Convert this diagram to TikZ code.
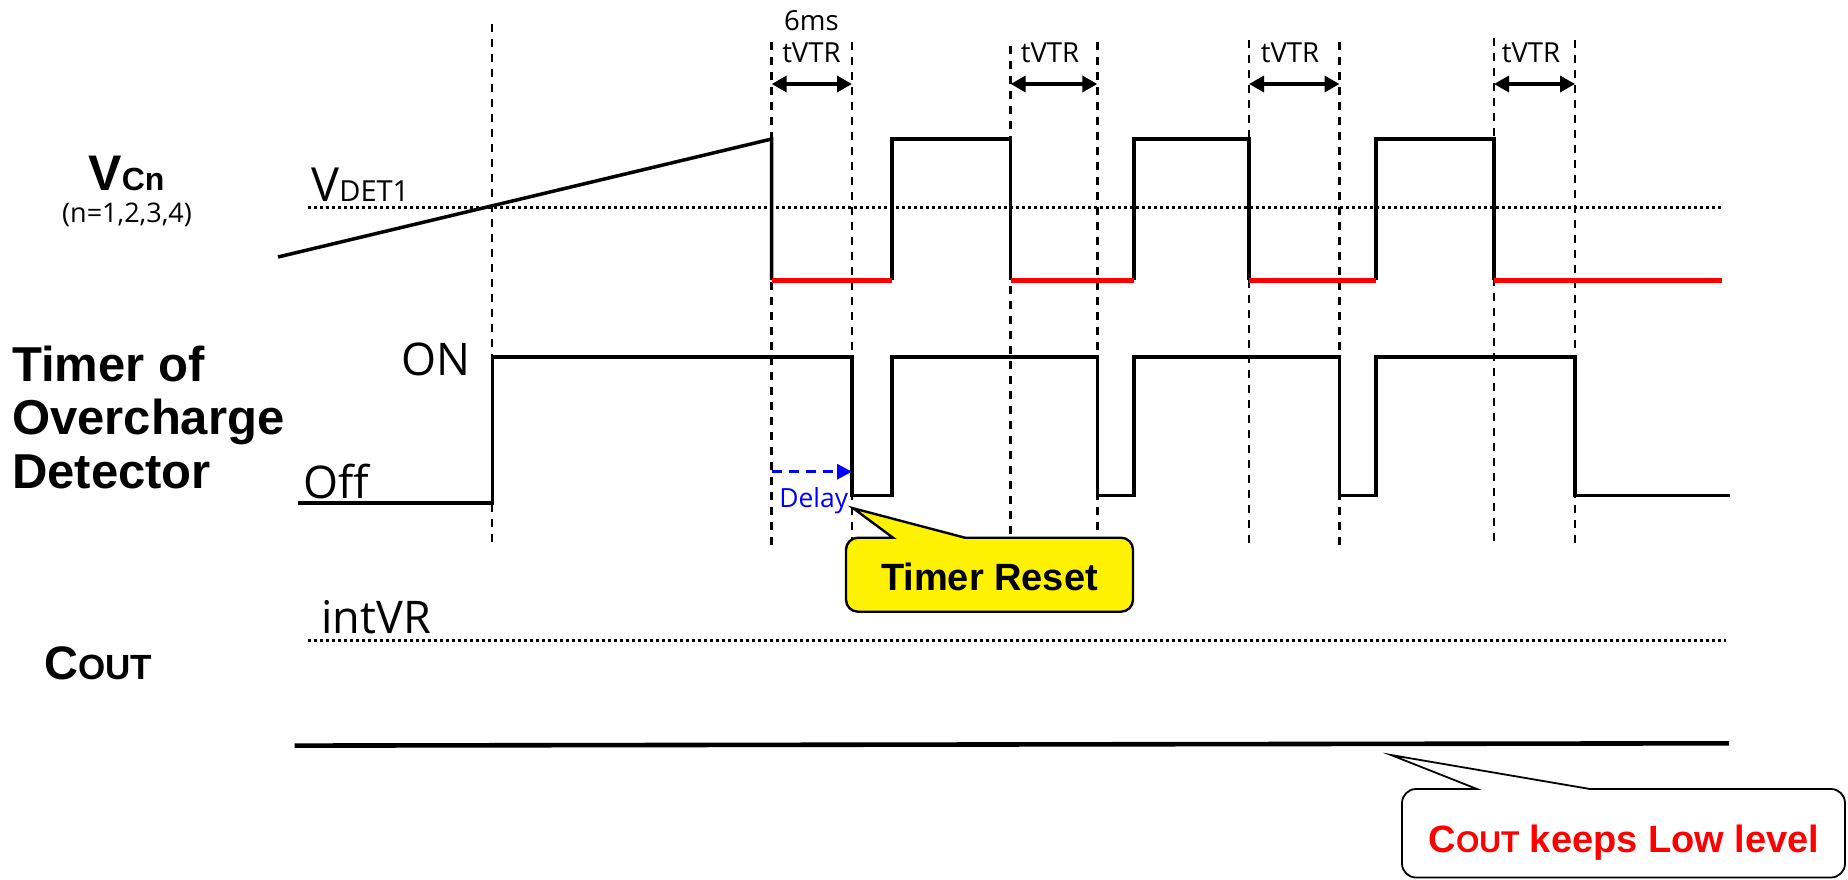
\documentclass[tikz,border=0pt]{standalone}
\usepackage{fontspec}
\setmainfont{Liberation Sans}
\newfontfamily\seg{Open Sans}
\usetikzlibrary{arrows.meta}
\begin{document}
\begin{tikzpicture}[x=0.5pt,y=-0.5pt,
  wave/.style={line width=1.75pt, line join=miter},
  redlow/.style={line width=2.5pt, red},
  guide/.style={line width=1.25pt, dash pattern=on 4pt off 3.5pt},
  level/.style={line width=1.5pt, dash pattern=on 1.5pt off 1.5pt},
  dim/.style={line width=1.7pt, {Triangle[length=7.5pt,width=8pt]}-{Triangle[length=7.5pt,width=8pt]}},
  lbl/.style={inner sep=0pt, anchor=base west},
  clbl/.style={inner sep=0pt, anchor=base},
  segtxt/.style={font=\seg\fontsize{13.8}{16}\selectfont},
  biglbl/.style={font=\bfseries\fontsize{24.5}{28}\selectfont},
  lvltxt/.style={font=\seg\fontsize{22.5}{26}\selectfont}]
\useasboundingbox (0,0) rectangle (1848,879);

% ---- vertical guide lines
\foreach \x/\t in {492/24, 771.7/42, 852/42, 1010.7/46, 1097.3/42, 1249/40, 1339.5/42, 1494/38, 1575/40}
  \draw[guide] (\x,\t) -- (\x,546);

% ---- time marks
\node[clbl, segtxt] (sixms) at (811.5,30) {6ms};
\node[clbl, segtxt] (t1) at (811.5,62) {tVTR};
\node[clbl, segtxt] (t2) at (1050,62) {tVTR};
\node[clbl, segtxt] (t3) at (1290,62) {tVTR};
\node[clbl, segtxt] (t4) at (1531,62) {tVTR};
\draw[dim] (771.7,84) -- (852,84);
\draw[dim] (1010.7,84) -- (1097.3,84);
\draw[dim] (1249,84) -- (1339.5,84);
\draw[dim] (1494,84) -- (1575,84);

% ---- left labels
\node[lbl] (vcn) at (88,190) {\bfseries\fontsize{25}{28}\selectfont V\fontsize{16}{18}\selectfont Cn};
\node[clbl, font=\seg\fontsize{13.5}{16}\selectfont] (nidx) at (127,222) {(n=1,2,3,4)};
\node[lbl, biglbl] (tm1) at (11.7,381.7) {Timer of};
\node[lbl, biglbl] (tm2) at (11.7,434.5) {Overcharge};
\node[lbl, biglbl] (tm3) at (11.7,488) {Detector};
\node[lbl] (coutl) at (44,679) {\bfseries\fontsize{23.5}{27}\selectfont C\fontsize{17.5}{20}\selectfont OUT};

% ---- level labels
\node[lbl] (vdet) at (311,201.7) {\seg\fontsize{23.5}{27}\selectfont V\fontsize{14.5}{16}\selectfont DET1};
\node[lbl, lvltxt] (on) at (401,375) {ON};
\node[lbl, lvltxt] (off) at (303,498) {Off};
\node[lbl, lvltxt] (intvr) at (321,633) {intVR};

% ---- reference levels
\draw[level] (308,207.7) -- (1722,207.7);
\draw[level] (308,640) -- (1726,640);

% ---- VCn waveform
\draw[wave] (278,257) -- (771.7,139) -- (771.7,280);
\draw[wave] (892,280) -- (892,139) -- (1010.7,139) -- (1010.7,280);
\draw[wave] (1134,280) -- (1134,139) -- (1249,139) -- (1249,280);
\draw[wave] (1376,280) -- (1376,139) -- (1494,139) -- (1494,280);
\draw[redlow] (771.7,280) -- (892,280);
\draw[redlow] (1010.7,280) -- (1134,280);
\draw[redlow] (1249,280) -- (1376,280);
\draw[redlow] (1494,280) -- (1722,280);

% ---- timer waveform
\draw[wave] (297.7,503) -- (492.3,503) -- (492.3,357) -- (852,357) -- (852,495.5)
  -- (892,495.5) -- (892,357) -- (1097.3,357) -- (1097.3,495.5) -- (1134,495.5)
  -- (1134,357) -- (1339.5,357) -- (1339.5,495.5) -- (1376,495.5) -- (1376,357)
  -- (1575,357) -- (1575,495.5) -- (1730,495.5);

% ---- delay
\draw[blue, line width=1.5pt, dash pattern=on 5pt off 3.5pt, -{Triangle[length=7.5pt,width=7.5pt]}] (771.7,471.7) -- (852,471.7);
\node[lbl, text=blue, font=\seg\fontsize{13.2}{16}\selectfont] (delay) at (779,507.7) {Delay};

% ---- COUT output
\draw[line width=2.3pt] (294.5,745.6) -- (1729,743.3);

% ---- Timer Reset callout
\draw[line width=1.2pt, fill=yellow, line join=miter]
  (870,537.7) -- (893,537.7) -- (853.3,508.3) -- (965,537.7) -- (980,537.7)
  [rounded corners=6pt] -- (1133,537.7) -- (1133,611.7) -- (846,611.7) -- (846,537.7) -- cycle;
\node[clbl, font=\bfseries\fontsize{19}{23}\selectfont] (reset) at (989.5,590) {Timer Reset};

% ---- COUT callout
\draw[line width=0.9pt, fill=white, line join=miter]
  (1440,789) -- (1477,789) -- (1391,755) -- (1590,789) -- (1610,789)
  [rounded corners=7pt] -- (1845,789) -- (1845,877.5) -- (1402,877.5) -- (1402,789) -- cycle;
\node[clbl, text=red, font=\bfseries\fontsize{19}{23}\selectfont] (keeps) at (1624,852) {C{\fontsize{15}{18}\selectfont OUT} keeps Low level};
\end{tikzpicture}
\end{document}
